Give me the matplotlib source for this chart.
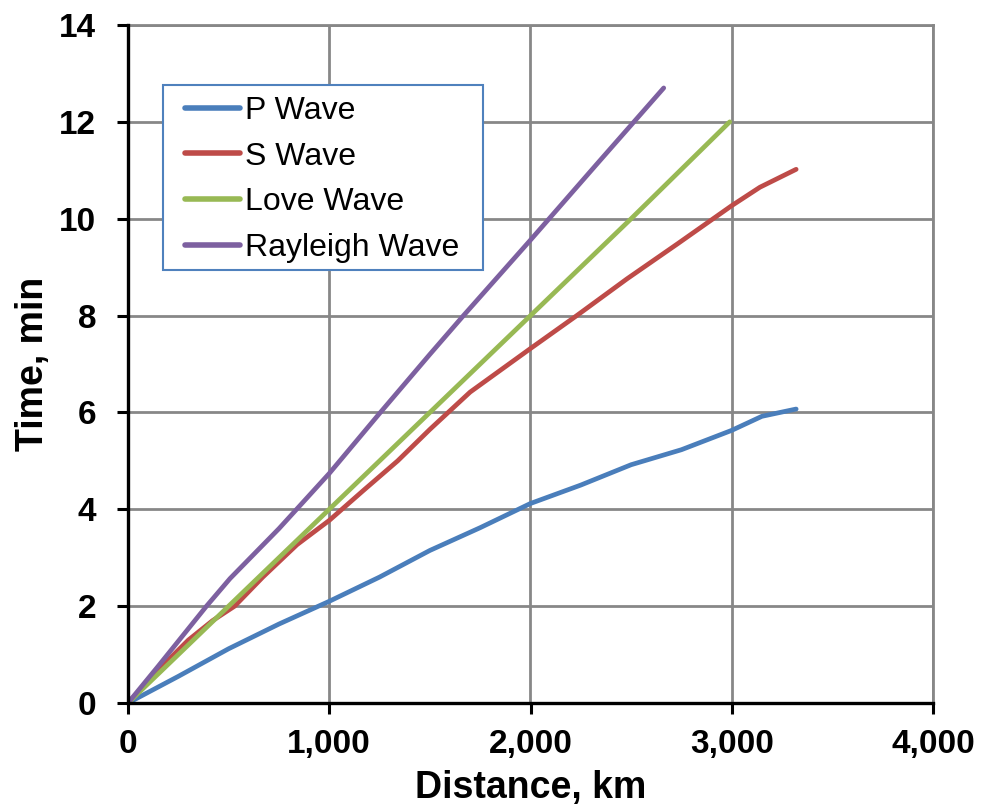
import matplotlib
matplotlib.use("Agg")
import matplotlib.pyplot as plt
from matplotlib.ticker import FuncFormatter
from matplotlib.patches import Rectangle

# ---- data ----
p_dist = [0, 250, 500, 750, 1000, 1250, 1500, 1750, 2000, 2250, 2500, 2750, 3000, 3150, 3320]
p_time = [0, 0.55, 1.12, 1.63, 2.10, 2.60, 3.15, 3.62, 4.12, 4.50, 4.92, 5.23, 5.63, 5.92, 6.07]

s_dist = [0, 150, 300, 420, 530, 670, 840, 1000, 1170, 1340, 1500, 1700, 2000, 2230, 2480, 2730, 3000, 3140, 3320]
s_time = [0, 0.68, 1.30, 1.70, 2.00, 2.60, 3.27, 3.77, 4.39, 5.00, 5.65, 6.42, 7.32, 8.00, 8.76, 9.48, 10.27, 10.65, 11.02]

love_dist = [0, 500, 1000, 1500, 2000, 2500, 2990]
love_time = [0, 2.0, 4.0, 6.0, 8.0, 10.0, 12.0]

ray_dist = [0, 150, 390, 507, 750, 1000, 1250, 1500, 1667, 2000, 2330, 2662]
ray_time = [0, 0.76, 2.00, 2.57, 3.60, 4.74, 5.98, 7.20, 8.00, 9.56, 11.13, 12.70]

series_names = ["P Wave", "S Wave", "Love Wave", "Rayleigh Wave"]
series_colors = ["#4A7EBB", "#BE4B48", "#98B954", "#7D60A0"]

x_ticks = [0, 1000, 2000, 3000, 4000]
y_ticks = [0, 2, 4, 6, 8, 10, 12, 14]

plt.rcParams['font.family'] = ['Liberation Sans', 'DejaVu Sans']

fig = plt.figure(figsize=(9.82, 8.08), dpi=100)
ax = fig.add_axes([128/982, 1 - 703/808, (933-128)/982, (703-25)/808])

data = [(p_dist, p_time), (s_dist, s_time), (love_dist, love_time), (ray_dist, ray_time)]
for (xd, yd), name, col in zip(data, series_names, series_colors):
    ax.plot(xd, yd, color=col, lw=3.4, label=name, solid_capstyle='round',
            solid_joinstyle='round', zorder=3)

ax.set_xlim(0, 4000)
ax.set_ylim(0, 14)
ax.set_xticks(x_ticks)
ax.set_yticks(y_ticks)
ax.xaxis.set_major_formatter(FuncFormatter(lambda v, p: f"{int(v):,}"))
ax.yaxis.set_major_formatter(FuncFormatter(lambda v, p: f"{int(v)}"))

ax.grid(True, color="#878787", lw=2.0, zorder=0)
ax.set_axisbelow(True)
for side in ['top', 'right']:
    ax.spines[side].set_color("#878787")
    ax.spines[side].set_linewidth(2.0)
for side in ['left', 'bottom']:
    ax.spines[side].set_color("black")
    ax.spines[side].set_linewidth(2.4)
    ax.spines[side].set_zorder(4)

ax.tick_params(axis='both', direction='out', length=8, width=2.2, color='black',
               labelsize=24)
ax.tick_params(axis='y', pad=15)
ax.tick_params(axis='x', pad=11)
for lab in ax.get_xticklabels() + ax.get_yticklabels():
    lab.set_fontweight('bold')

ax.set_xlabel("Distance, km", fontsize=27, fontweight='bold', labelpad=7)
ax.set_ylabel("Time, min", fontsize=27, fontweight='bold', labelpad=6)

# legend frame
frame = Rectangle(((163-128)/805, (703-270)/678), (483-163)/805, (270-85)/678,
                  transform=ax.transAxes, facecolor='white', edgecolor='#4F81BD',
                  lw=1.5, zorder=5)
ax.add_patch(frame)
leg = ax.legend(loc='upper left', bbox_to_anchor=((185-128)/805, (703-96)/678),
                frameon=False, fontsize=23, handlelength=1.72, handletextpad=0.16,
                labelspacing=0.49, borderpad=0, borderaxespad=0)
leg.set_zorder(6)
for h in leg.get_lines():
    h.set_linewidth(4)

fig.savefig("out.png", dpi=100)
